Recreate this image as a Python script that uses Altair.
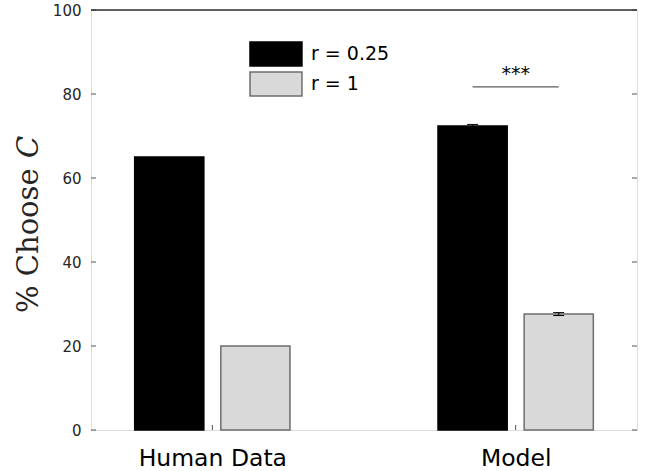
import altair as alt
import pandas as pd

# ---- data ----
groups = ["Human Data", "Model"]
group_pos = [1, 2]
series = ["r = 0.25", "r = 1"]
human_values = [65.0, 20.0]
model_values = [72.4, 27.6]
human_err = [0.0, 0.0]
model_err = [0.35, 0.35]
y_ticks = [0, 20, 40, 60, 80, 100]
sig_label = "***"
sig_level = 81.7

# ---- layout constants ----
W, H = 546, 420
bar_offset = [-0.142, 0.142]
bar_half = 0.114
cap_half = 0.018

rows = []
for gname, gpos, vals, errs in [(groups[0], group_pos[0], human_values, human_err),
                                (groups[1], group_pos[1], model_values, model_err)]:
    for s, off, v, e in zip(series, bar_offset, vals, errs):
        rows.append(dict(group=gname, pos=gpos, series=s, off=off, value=v, err=e))
df = pd.DataFrame(rows)

xscale = alt.Scale(domain=[0.6, 2.4], nice=False, zero=False)
yscale = alt.Scale(domain=[0, 100], nice=False)

color_scale = alt.Scale(domain=series, range=["#000000", "#d9d9d9"])
stroke_scale = alt.Scale(domain=series, range=["#000000", "#6e6e6e"])

base = alt.Chart(df).transform_calculate(
    center="datum.pos + datum.off",
    x1="datum.pos + datum.off - %f" % bar_half,
    x2="datum.pos + datum.off + %f" % bar_half,
    lo="datum.value - datum.err",
    hi="datum.value + datum.err",
    c1="datum.pos + datum.off - %f" % cap_half,
    c2="datum.pos + datum.off + %f" % cap_half,
)

label_expr = "datum.value == 1 ? '%s' : '%s'" % (groups[0], groups[1])

# legend swatch: 52x24 rectangle drawn from a 24px symbol box
swatch = "M-1,-1H3.33V1H-1Z"

bars = base.mark_rect(strokeWidth=1.5).encode(
    x=alt.X("x1:Q", scale=xscale,
            axis=alt.Axis(values=group_pos, labelExpr=label_expr, title=None,
                          ticks=False, domain=False, grid=False,
                          labelFont="DejaVu Sans", labelFontSize=23.5,
                          labelColor="#000000", labelPadding=16)),
    x2="x2:Q",
    y=alt.Y("value:Q", scale=yscale,
            axis=alt.Axis(values=y_ticks, title=None, ticks=False, domain=False,
                          grid=False, labelFont="DejaVu Sans", labelFontSize=15,
                          labelColor="#262626", labelPadding=10)),
    y2=alt.datum(0),
    fill=alt.Fill("series:N", scale=color_scale,
                  legend=alt.Legend(title=None, orient="none", legendX=158, legendY=31,
                                    symbolType=swatch, symbolSize=576,
                                    symbolStrokeWidth=1.5, labelFont="DejaVu Sans",
                                    labelFontSize=19, labelColor="#000000",
                                    labelOffset=36, rowPadding=0, padding=0)),
    stroke=alt.Stroke("series:N", scale=stroke_scale, legend=None),
)

err_data = base.transform_filter("datum.err > 0")
err_v = err_data.mark_rule(color="#000000", strokeWidth=1).encode(
    x="center:Q", y="lo:Q", y2="hi:Q")
err_cap_hi = err_data.mark_rule(color="#000000", strokeWidth=1).encode(
    x="c1:Q", x2="c2:Q", y="hi:Q")
err_cap_lo = err_data.mark_rule(color="#000000", strokeWidth=1).encode(
    x="c1:Q", x2="c2:Q", y="lo:Q")

# significance annotation between the two model bars
sig_df = pd.DataFrame({
    "xa": [group_pos[1] + bar_offset[0]],
    "xb": [group_pos[1] + bar_offset[1]],
    "xm": [group_pos[1]],
    "y": [sig_level],
    "label": [sig_label],
})
sig_line = alt.Chart(sig_df).mark_rule(color="#5a5a5a", strokeWidth=1.2).encode(
    x=alt.X("xa:Q", scale=xscale), x2="xb:Q", y=alt.Y("y:Q", scale=yscale))
sig_text = alt.Chart(sig_df).mark_text(font="DejaVu Sans", fontSize=19, baseline="middle",
                                       dy=-13, color="#000000").encode(
    x=alt.X("xm:Q", scale=xscale), y=alt.Y("y:Q", scale=yscale), text="label:N")

# inward tick marks (MATLAB style)
yt_df = pd.DataFrame({"t": y_ticks})
left_ticks = alt.Chart(yt_df).mark_rule(color="#555555", strokeWidth=1).encode(
    y=alt.Y("t:Q", scale=yscale), x=alt.value(0), x2=alt.value(5))
right_ticks = alt.Chart(yt_df).mark_rule(color="#555555", strokeWidth=1).encode(
    y=alt.Y("t:Q", scale=yscale), x=alt.value(W - 5), x2=alt.value(W))
xt_df = pd.DataFrame({"p": group_pos})
bottom_ticks = alt.Chart(xt_df).mark_rule(color="#555555", strokeWidth=1).encode(
    x=alt.X("p:Q", scale=xscale), y=alt.value(H - 5), y2=alt.value(H))

top_line = alt.Chart(xt_df).mark_rule(color="#333333", strokeWidth=1).encode(
    x=alt.value(0), x2=alt.value(W), y=alt.value(0))

# y-axis title: "% Choose C" with italic C
ylab1 = alt.Chart(xt_df.head(1)).mark_text(
    text="% Choose", font="DejaVu Serif", fontSize=29, angle=270,
    align="left", baseline="alphabetic", color="#262626").encode(
    x=alt.value(-53), y=alt.value(303))
ylab2 = alt.Chart(xt_df.head(1)).mark_text(
    text="C", font="DejaVu Serif", fontSize=29, fontStyle="italic", angle=270,
    align="left", baseline="alphabetic", color="#262626").encode(
    x=alt.value(-53), y=alt.value(148))

chart = alt.layer(
    bars, err_v, err_cap_hi, err_cap_lo, sig_line, sig_text,
    left_ticks, right_ticks, bottom_ticks, top_line, ylab1, ylab2
).properties(
    width=W, height=H,
    autosize=alt.AutoSizeParams(type="none"),
    padding={"left": 91, "top": 10, "right": 9, "bottom": 41},
).configure_view(
    stroke="#8c8c8c", strokeWidth=1.5
).configure(background="white")

chart.save("out.html", embed_options={"renderer": "svg", "actions": False})
